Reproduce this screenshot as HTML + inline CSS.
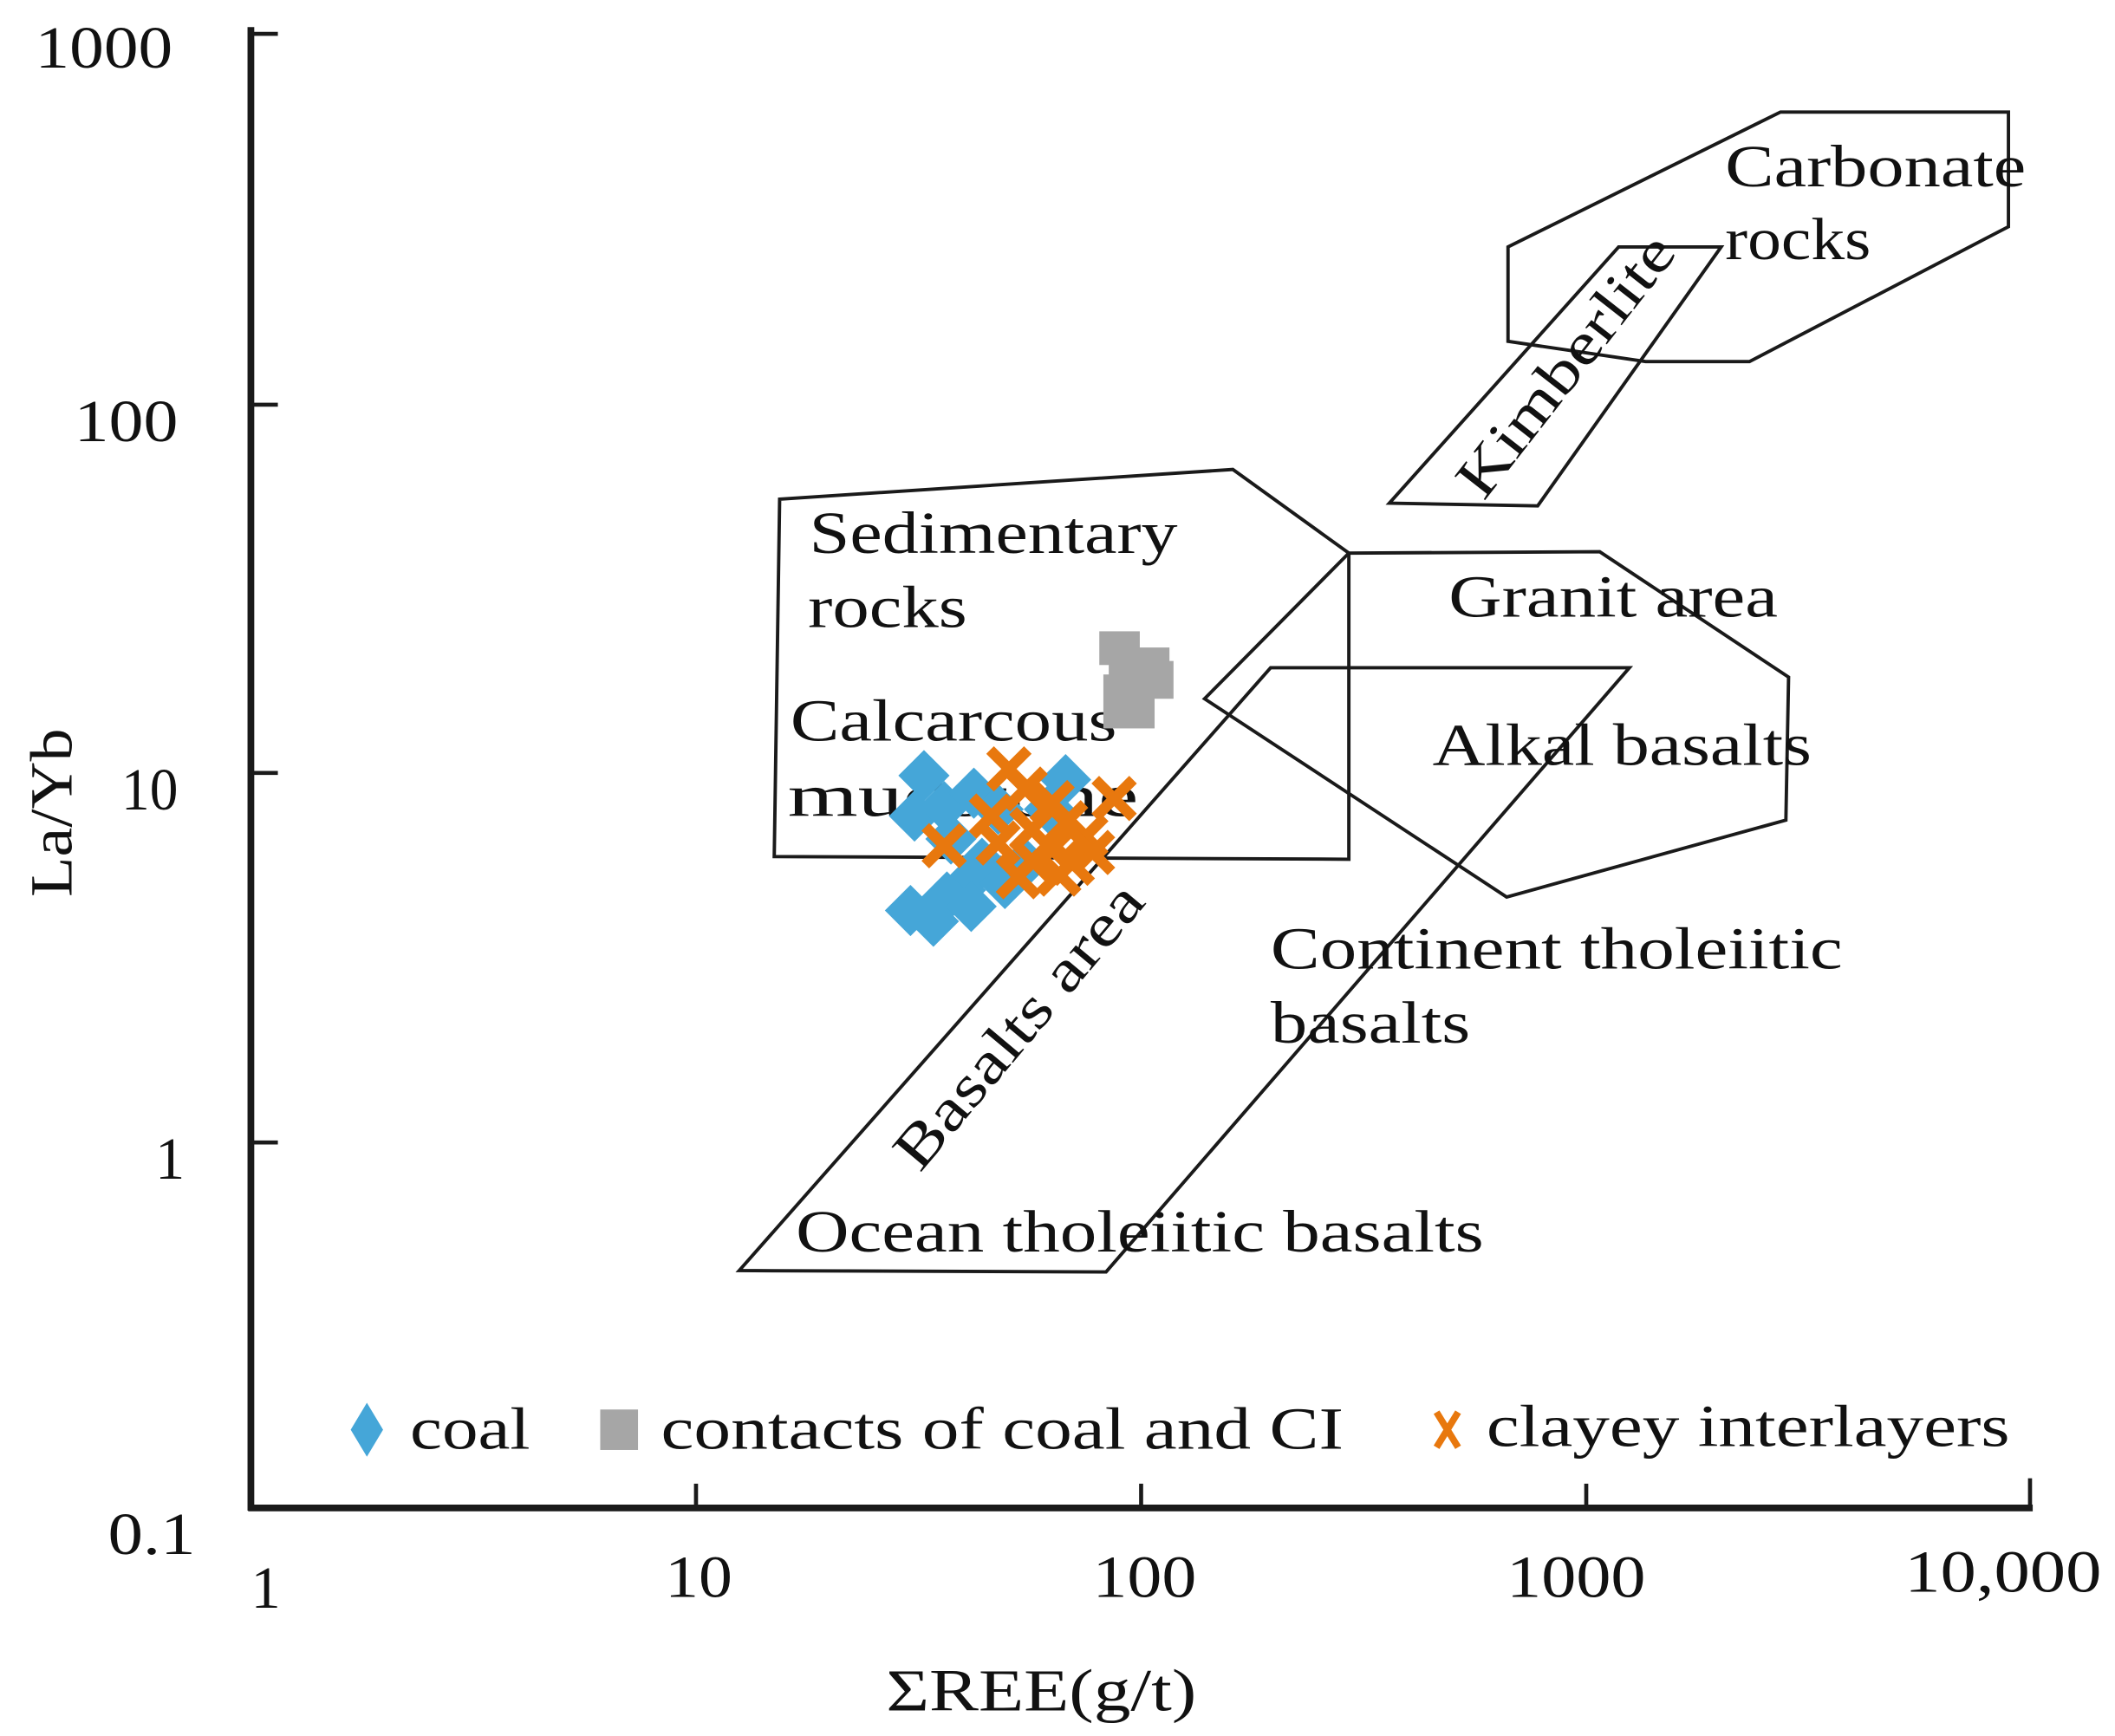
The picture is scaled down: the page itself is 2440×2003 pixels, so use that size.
<!DOCTYPE html>
<html><head><meta charset="utf-8"><style>html,body{margin:0;padding:0;background:#fff}svg{display:block}</style></head>
<body>
<svg width="2440" height="2003" viewBox="0 0 1568 1287" xmlns="http://www.w3.org/2000/svg" font-family="'Liberation Serif', serif">
<rect width="1568" height="1287" fill="#fff"/>
<g stroke="#1a1a1a" stroke-width="5" fill="none">
<line x1="186" y1="20" x2="186" y2="1120"/>
<line x1="184" y1="1118" x2="1507" y2="1118"/>
</g>
<g stroke="#1a1a1a" stroke-width="3">
<line x1="186" y1="25" x2="206" y2="25"/>
<line x1="186" y1="300" x2="206" y2="300"/>
<line x1="186" y1="573" x2="206" y2="573"/>
<line x1="186" y1="847" x2="206" y2="847"/>
<line x1="516" y1="1118" x2="516" y2="1100"/>
<line x1="846" y1="1118" x2="846" y2="1100"/>
<line x1="1176" y1="1118" x2="1176" y2="1100"/>
<line x1="1505" y1="1118" x2="1505" y2="1096"/>
</g>
<g font-size="44" fill="#111">
<text x="26" y="50" textLength="102" lengthAdjust="spacingAndGlyphs">1000</text>
<text x="55" y="327" textLength="77" lengthAdjust="spacingAndGlyphs">100</text>
<text x="90" y="600" textLength="42" lengthAdjust="spacingAndGlyphs">10</text>
<text x="115" y="874">1</text>
<text x="80" y="1152" textLength="65" lengthAdjust="spacingAndGlyphs">0.1</text>
<text x="186" y="1192">1</text>
<text x="493" y="1184" textLength="50" lengthAdjust="spacingAndGlyphs">10</text>
<text x="810" y="1184" textLength="77" lengthAdjust="spacingAndGlyphs">100</text>
<text x="1117" y="1184" textLength="103" lengthAdjust="spacingAndGlyphs">1000</text>
<text x="1412" y="1180" textLength="146" lengthAdjust="spacingAndGlyphs">10,000</text>
<text x="657" y="1268" textLength="230" lengthAdjust="spacingAndGlyphs">ΣREE(g/t)</text>
</g>
<text transform="translate(53,665) rotate(-90)" font-size="44" fill="#111" textLength="125" lengthAdjust="spacingAndGlyphs">La/Yb</text>
<g stroke="#1a1a1a" stroke-width="2.5" fill="none">
<polygon points="1118,183 1320,83 1489,83 1489,168 1297,268 1220,268 1118,253"/>
<polygon points="1030,373 1200,183 1276,183 1140,375"/>
<polygon points="578,370 914,348 1000,410 1000,637 574,635"/>
<polygon points="893,518 1000,410 1186,409 1326,502 1324,608 1117,665"/>
<polygon points="548,942 942,495 1208,495 820,943"/>
</g>
<g font-size="44" fill="#111">
<text x="1279" y="138" textLength="223" lengthAdjust="spacingAndGlyphs">Carbonate</text>
<text x="1279" y="192" textLength="108" lengthAdjust="spacingAndGlyphs">rocks</text>
<text transform="translate(1100,372) rotate(-52)" textLength="234" lengthAdjust="spacingAndGlyphs">Kimberlite</text>
<text x="600" y="410" textLength="273" lengthAdjust="spacingAndGlyphs">Sedimentary</text>
<text x="599" y="465" textLength="118" lengthAdjust="spacingAndGlyphs">rocks</text>
<text x="1074" y="457" textLength="244" lengthAdjust="spacingAndGlyphs">Granit area</text>
<text x="586" y="549" textLength="242" lengthAdjust="spacingAndGlyphs">Calcarcous</text>
<text x="584" y="605" textLength="260" lengthAdjust="spacingAndGlyphs">mudstone</text>
<text x="1062" y="567" textLength="281" lengthAdjust="spacingAndGlyphs">Alkal basalts</text>
<text x="942" y="718" textLength="424" lengthAdjust="spacingAndGlyphs">Continent tholeiitic</text>
<text x="942" y="773" textLength="148" lengthAdjust="spacingAndGlyphs">basalts</text>
<text transform="translate(682,870) rotate(-50)" textLength="262" lengthAdjust="spacingAndGlyphs">Basalts area</text>
<text x="590" y="928" textLength="510" lengthAdjust="spacingAndGlyphs">Ocean tholeiitic basalts</text>
</g>
<g fill="#a6a6a6">
<rect x="815" y="468" width="30" height="25"/><rect x="822" y="480" width="45" height="35"/><rect x="818" y="500" width="38" height="40"/><rect x="840" y="490" width="30" height="28"/>
</g>
<g fill="#45a6d8">
<path d="M0,-19 L19,0 L0,19 L-19,0Z" transform="translate(685,575)"/>
<path d="M0,-19 L19,0 L0,19 L-19,0Z" transform="translate(678,605)"/>
<path d="M0,-19 L19,0 L0,19 L-19,0Z" transform="translate(700,598)"/>
<path d="M0,-19 L19,0 L0,19 L-19,0Z" transform="translate(722,588)"/>
<path d="M0,-19 L19,0 L0,19 L-19,0Z" transform="translate(740,600)"/>
<path d="M0,-19 L19,0 L0,19 L-19,0Z" transform="translate(790,578)"/>
<path d="M0,-19 L19,0 L0,19 L-19,0Z" transform="translate(778,600)"/>
<path d="M0,-19 L19,0 L0,19 L-19,0Z" transform="translate(705,622)"/>
<path d="M0,-19 L19,0 L0,19 L-19,0Z" transform="translate(728,640)"/>
<path d="M0,-19 L19,0 L0,19 L-19,0Z" transform="translate(712,660)"/>
<path d="M0,-19 L19,0 L0,19 L-19,0Z" transform="translate(675,675)"/>
<path d="M0,-19 L19,0 L0,19 L-19,0Z" transform="translate(692,683)"/>
<path d="M0,-19 L19,0 L0,19 L-19,0Z" transform="translate(702,665)"/>
<path d="M0,-19 L19,0 L0,19 L-19,0Z" transform="translate(745,655)"/>
<path d="M0,-19 L19,0 L0,19 L-19,0Z" transform="translate(760,640)"/>
<path d="M0,-19 L19,0 L0,19 L-19,0Z" transform="translate(720,672)"/>
<path d="M0,-20 L12,0 L0,20 L-12,0Z" transform="translate(272,1060)"/>
</g>
<g stroke="#e8780e" stroke-width="8" fill="none">
<path d="M-14,-14L14,14M14,-14L-14,14" transform="translate(748,570)"/>
<path d="M-14,-14L14,14M14,-14L-14,14" transform="translate(760,585)"/>
<path d="M-14,-14L14,14M14,-14L-14,14" transform="translate(780,595)"/>
<path d="M-14,-14L14,14M14,-14L-14,14" transform="translate(826,592)"/>
<path d="M-14,-14L14,14M14,-14L-14,14" transform="translate(700,627)"/>
<path d="M-14,-14L14,14M14,-14L-14,14" transform="translate(735,605)"/>
<path d="M-14,-14L14,14M14,-14L-14,14" transform="translate(740,625)"/>
<path d="M-14,-14L14,14M14,-14L-14,14" transform="translate(765,615)"/>
<path d="M-14,-14L14,14M14,-14L-14,14" transform="translate(790,610)"/>
<path d="M-14,-14L14,14M14,-14L-14,14" transform="translate(805,620)"/>
<path d="M-14,-14L14,14M14,-14L-14,14" transform="translate(780,630)"/>
<path d="M-14,-14L14,14M14,-14L-14,14" transform="translate(765,638)"/>
<path d="M-14,-14L14,14M14,-14L-14,14" transform="translate(795,640)"/>
<path d="M-14,-14L14,14M14,-14L-14,14" transform="translate(810,632)"/>
<path d="M-14,-14L14,14M14,-14L-14,14" transform="translate(785,648)"/>
<path d="M-14,-14L14,14M14,-14L-14,14" transform="translate(755,650)"/>
<path d="M-8,-13L8,13M8,-13L-8,13" transform="translate(1073,1060)" stroke-width="5"/>
</g>
<rect x="445" y="1045" width="28" height="30" fill="#a6a6a6"/>
<g font-size="44" fill="#111">
<text x="304" y="1074" textLength="89" lengthAdjust="spacingAndGlyphs">coal</text>
<text x="490" y="1074" textLength="506" lengthAdjust="spacingAndGlyphs">contacts of coal and CI</text>
<text x="1102" y="1072" textLength="388" lengthAdjust="spacingAndGlyphs">clayey interlayers</text>
</g>
</svg>
</body></html>
